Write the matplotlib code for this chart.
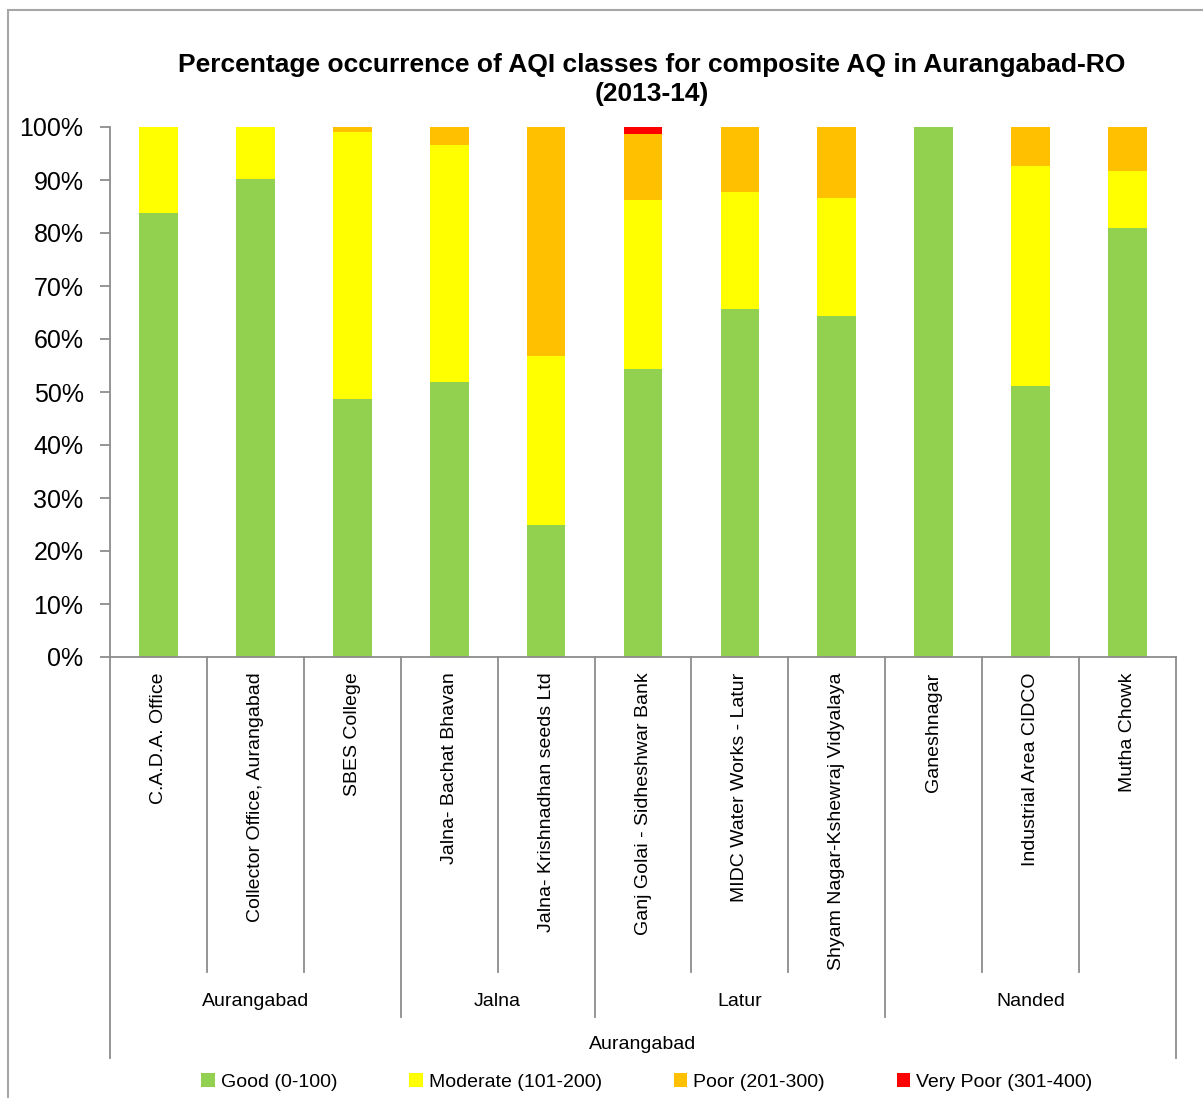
import matplotlib
matplotlib.use("Agg")
import matplotlib.pyplot as plt
import matplotlib.transforms as mtransforms
from matplotlib.lines import Line2D
from matplotlib.patches import Rectangle, Patch

plt.rcParams['font.family'] = ['Liberation Sans', 'DejaVu Sans']

stations = ["C.A.D.A. Office", "Collector Office, Aurangabad", "SBES College",
            "Jalna- Bachat Bhavan", "Jalna- Krishnadhan seeds Ltd",
            "Ganj Golai - Sidheshwar Bank", "MIDC Water Works - Latur",
            "Shyam Nagar-Kshewraj Vidyalaya", "Ganeshnagar",
            "Industrial Area CIDCO", "Mutha Chowk"]
districts = ["Aurangabad", "Jalna", "Latur", "Nanded"]
district_sizes = [3, 2, 3, 3]
region = "Aurangabad"

good = [83.7, 90.2, 48.7, 51.9, 24.9, 54.3, 65.7, 64.3, 100.0, 51.1, 80.9]
moderate = [16.3, 9.8, 50.4, 44.7, 31.9, 31.9, 22.0, 22.3, 0.0, 41.5, 10.8]
poor = [0.0, 0.0, 0.9, 3.4, 43.2, 12.5, 12.3, 13.4, 0.0, 7.4, 8.3]
very_poor = [0.0, 0.0, 0.0, 0.0, 0.0, 1.3, 0.0, 0.0, 0.0, 0.0, 0.0]

series = [("Good (0-100)", good, "#92D050"),
          ("Moderate (101-200)", moderate, "#FFFF00"),
          ("Poor (201-300)", poor, "#FFC000"),
          ("Very Poor (301-400)", very_poor, "#FF0000")]

W, H = 1203, 1098
fig = plt.figure(figsize=(W / 100, H / 100), dpi=100)
ax = fig.add_axes([110 / W, 1 - 657 / H, (1176 - 110) / W, (657 - 127) / H])

x = list(range(len(stations)))
bottom = [0.0] * len(stations)
for name, vals, col in series:
    ax.bar(x, vals, width=0.4, bottom=bottom, color=col, edgecolor='none')
    bottom = [b + v for b, v in zip(bottom, vals)]

gray = '#8C8C8C'
ax.set_xlim(-0.5, len(stations) - 0.5)
ax.set_ylim(0, 100)
ax.set_yticks(range(0, 101, 10))
ax.set_yticklabels([f"{v}%" for v in range(0, 101, 10)])
ax.tick_params(axis='y', length=7, color=gray, width=1.3, labelsize=18, pad=12)
ax.set_xticks(x)
ax.set_xticklabels(stations, rotation=90, va='top', ha='center', fontsize=14)
ax.tick_params(axis='x', length=0, pad=11)
for s in ['top', 'right']:
    ax.spines[s].set_visible(False)
for s in ['left', 'bottom']:
    ax.spines[s].set_color(gray)
    ax.spines[s].set_linewidth(1.3)

trans = mtransforms.blended_transform_factory(ax.transData, ax.transAxes)
bounds = []
acc = 0
for n in district_sizes:
    acc += n
    bounds.append(acc)
for i in range(len(stations) + 1):
    xb = i - 0.5
    if i == 0 or i == len(stations):
        y0 = -0.757
    elif i in bounds:
        y0 = -0.679
    else:
        y0 = -0.594
    ax.add_line(Line2D([xb, xb], [0, y0], transform=trans, color=gray,
                       lw=1.3, clip_on=False))

start = 0
for name, n in zip(districts, district_sizes):
    cx = start + (n - 1) / 2
    ax.text(cx, -0.650, name, transform=trans, ha='center', va='center', fontsize=14)
    start += n
ax.text((len(stations) - 1) / 2, -0.732, region, transform=trans,
        ha='center', va='center', fontsize=14)

fig.text(652 / W, 1 - 79.5 / H,
         "Percentage occurrence of AQI classes for composite AQ in Aurangabad-RO\n(2013-14)",
         ha='center', va='center', fontsize=19, fontweight='bold', linespacing=1.3)

handles = [Patch(facecolor=c, edgecolor='none') for _, _, c in series]
fig.legend(handles, [n for n, _, _ in series], loc='center',
           bbox_to_anchor=(647 / W, 1 - 1082 / H), ncol=4, frameon=False,
           fontsize=14, handlelength=0.7, handleheight=0.7,
           handletextpad=0.3, columnspacing=3.7)

fig.add_artist(Rectangle((8 / W, -0.05), 1.2, (1 - 10 / H) + 0.05,
                         transform=fig.transFigure, fill=False,
                         edgecolor='#A6A6A6', lw=1.5))

fig.savefig("out.png", dpi=100)
